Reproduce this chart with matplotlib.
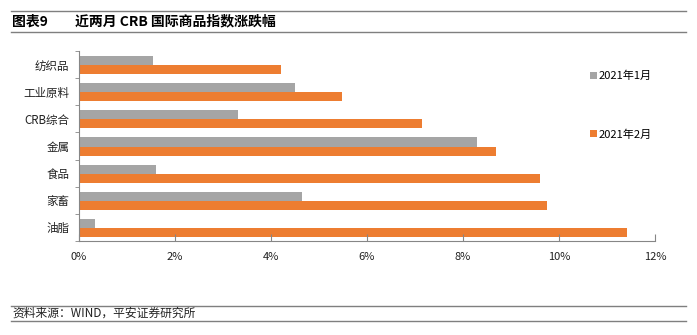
import matplotlib
matplotlib.use("Agg")
import matplotlib.pyplot as plt
import numpy as np
from matplotlib.lines import Line2D
from matplotlib.ticker import FuncFormatter, FixedLocator

plt.rcParams['font.family'] = ['Noto Sans CJK SC', 'DejaVu Sans']

categories = ['纺织品', '工业原料', 'CRB综合', '金属', '食品', '家畜', '油脂']
jan_2021 = [1.54, 4.50, 3.31, 8.29, 1.60, 4.64, 0.33]
feb_2021 = [4.20, 5.48, 7.15, 8.69, 9.60, 9.75, 11.42]
series_names = ['2021年1月', '2021年2月']
xticks = [0, 2, 4, 6, 8, 10, 12]

gray = '#A5A5A5'
orange = '#ED7D31'
axis_col = '#868686'

fig = plt.figure(figsize=(6.97, 3.35), dpi=100)
ax = fig.add_axes([79/697, 1-241/335, (655-79)/697, (241-51)/335])

n = len(categories)
y = np.arange(n)[::-1].astype(float)
h = 0.335
ax.barh(y + h/2 - 0.02, jan_2021, height=h, color=gray, label=series_names[0])
ax.barh(y - h/2 - 0.02, feb_2021, height=h, color=orange, label=series_names[1])

ax.set_xlim(0, 12)
ax.set_ylim(-0.5, n - 0.5)
ax.xaxis.set_major_locator(FixedLocator(xticks))
ax.xaxis.set_major_formatter(FuncFormatter(lambda v, p: f'{int(v)}%'))
ax.tick_params(axis='x', direction='in', length=5, color=axis_col, labelsize=8,
               pad=8, labelcolor='#222222')
ax.set_yticks(y)
ax.set_yticklabels(categories)
ax.tick_params(axis='y', length=0, labelsize=8.3, pad=7, labelcolor='#222222')
ax.set_yticks(np.arange(n + 1) - 0.5, minor=True)
ax.tick_params(axis='y', which='minor', direction='out', length=3, color=axis_col)

for s in ['top', 'right']:
    ax.spines[s].set_visible(False)
for s in ['left', 'bottom']:
    ax.spines[s].set_color(axis_col)
    ax.spines[s].set_linewidth(0.8)

leg = ax.legend(loc='upper left', bbox_to_anchor=((590-79)/576, 1 - (71-51)/190),
                frameon=False, fontsize=8, handlelength=0.6, handleheight=0.6,
                handletextpad=0.15, labelspacing=4.3, borderaxespad=0, borderpad=0)

# Header / footer
line_col = '#7F7F7F'
fig.add_artist(Line2D([11/697, 686/697], [1-11/335, 1-11/335], color=line_col, lw=1.0))
fig.add_artist(Line2D([11/697, 686/697], [1-32/335, 1-32/335], color=line_col, lw=1.0))
fig.text(12/697, 1-21.5/335, '图表9', fontsize=10, fontweight='bold', va='center', ha='left')
fig.text(75/697, 1-21.5/335, '近两月 CRB 国际商品指数涨跌幅', fontsize=10, fontweight='bold',
         va='center', ha='left')
fig.add_artist(Line2D([11/697, 686/697], [1-306/335, 1-306/335], color=line_col, lw=1.0))
fig.add_artist(Line2D([11/697, 686/697], [1-321/335, 1-321/335], color=line_col, lw=1.0))
fig.text(12/697, 1-313.5/335, '资料来源：WIND，平安证券研究所', fontsize=8.5, style='italic',
         va='center', ha='left', color='#222222')

fig.savefig('out.png', dpi=100)
